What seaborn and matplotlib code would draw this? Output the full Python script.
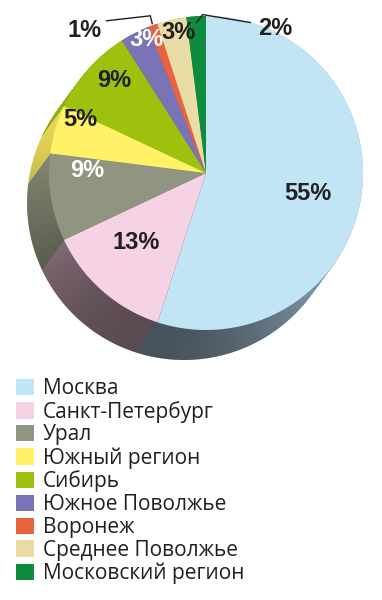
import numpy as np
import matplotlib
matplotlib.use('Agg')
import matplotlib.pyplot as plt
import seaborn as sns
from matplotlib.path import Path
from matplotlib.patches import PathPatch

# ---------------- data ----------------
regions = ['Москва', 'Санкт-Петербург', 'Урал', 'Южный регион', 'Сибирь',
           'Южное Поволжье', 'Воронеж', 'Среднее Поволжье', 'Московский регион']
shares = [55, 13, 9, 5, 9, 3, 1, 3, 2]

# ---------------- style ----------------
top_colors = ['#c2e5f6', '#f5d2e4', '#8f9580', '#fff266', '#9dc10d',
              '#7a73b6', '#ea633f', '#e9dca4', '#0f8b3d']
side_colors = ['#94adbf', '#bb9aa8', '#8a907a', '#e6d656', '#8fae10',
               '#6a64a0', '#c85434', '#cfc28b', '#0c7433']
label_colors = ['#231f20', '#231f20', 'white', '#231f20', '#231f20',
                'white', '#231f20', '#231f20', '#231f20']
label_shift = [-2.6, -3.6, -10, -6.8, -3.6, -3, 0, -1.6, 0]
label_rad = [0.66, 0.63, 0.76, 0.87, 0.83, 0.93, None, 0.91, None]
# callouts: (radius factor, leader offsets, text offset, ha)
callouts = {6: (1.01, [(-2, 8), (-46, 3)], (-51, -7), 'right'),
            8: (0.96, [(6, 8), (54, 0)], (62, -6), 'left')}

sns.set_theme(style='white')
plt.rcParams['font.family'] = ['Open Sans', 'DejaVu Sans']
dark = '#231f20'
bold_family = ['Liberation Sans', 'DejaVu Sans']

W, H = 382, 600
fig = plt.figure(figsize=(W / 100, H / 100), dpi=100, facecolor='white')
ax = fig.add_axes([0, 0, 1, 1])

cx, cy, R = 206, 427, 157
dx, dy = -22, -30

# extruded side (stack of offset pies)
n_layers = 36
for i in range(n_layers):
    t = 1 - i / (n_layers - 1)
    ax.pie(shares, colors=side_colors, startangle=90, counterclock=False,
           center=(cx + dx * t, cy + dy * t), radius=R,
           wedgeprops=dict(linewidth=0, zorder=1))

# shading of the side
phi = np.arctan2(-dy, -dx)
a1 = np.linspace(phi + np.pi / 2, phi + 1.5 * np.pi, 200)
a2 = np.linspace(phi + 1.5 * np.pi, phi + 2.5 * np.pi, 200)
xs = np.r_[cx + dx + R * np.cos(a1), cx + R * np.cos(a2)]
ys = np.r_[cy + dy + R * np.sin(a1), cy + R * np.sin(a2)]
verts = np.c_[np.r_[xs, xs[0]], np.r_[ys, ys[0]]]
clip = PathPatch(Path(verts, closed=True), transform=ax.transData,
                 facecolor='none', edgecolor='none')
ax.add_patch(clip)
yy, xx = np.mgrid[0:H, 0:W] + 0.5
theta = np.degrees(np.arctan2(yy - cy, xx - cx))
d = np.radians((theta - 250 + 180) % 360 - 180)
v = np.clip(np.cos(d), 0, 1)
rgba = np.zeros((H, W, 4))
rgba[..., 3] = v ** 1.5 * 0.52
im = ax.imshow(rgba, extent=(0, W, 0, H), origin='lower', zorder=2,
               interpolation='bilinear')
im.set_clip_path(clip)

# top face
wedges, _ = ax.pie(shares, colors=top_colors, startangle=90, counterclock=False,
                   center=(cx, cy), radius=R,
                   wedgeprops=dict(linewidth=0, zorder=3))

# percent labels
for k, (w, s, col, sh, rf) in enumerate(zip(wedges, shares, label_colors,
                                            label_shift, label_rad)):
    mid = np.radians((w.theta1 + w.theta2) / 2 + sh)
    if rf is not None:
        ax.text(cx + rf * R * np.cos(mid), cy + rf * R * np.sin(mid), f'{s}%',
                ha='center', va='center', fontsize=17, fontweight='bold',
                color=col, family=bold_family, zorder=5)
    elif k in callouts:
        r0, offs, toff, ha = callouts[k]
        x0 = cx + r0 * R * np.cos(mid)
        y0 = cy + r0 * R * np.sin(mid)
        lx = [x0] + [x0 + o[0] for o in offs]
        ly = [y0] + [y0 + o[1] for o in offs]
        ax.plot(lx, ly, color=dark, lw=1.0, zorder=6, solid_joinstyle='miter')
        ax.text(x0 + toff[0], y0 + toff[1], f'{s}%', ha=ha, va='center',
                fontsize=17, fontweight='bold', color=dark,
                family=bold_family, zorder=5)

# legend
leg = ax.legend(wedges, regions, loc='upper left', bbox_to_anchor=(16, 222),
                bbox_transform=ax.transData, frameon=False, fontsize=15,
                handlelength=0.87, handleheight=0.82, handletextpad=0.42,
                labelspacing=0.085, borderaxespad=0, borderpad=0)
for txt in leg.get_texts():
    txt.set_color(dark)

ax.set_xlim(0, W)
ax.set_ylim(0, H)
ax.set_aspect('auto')
ax.axis('off')

fig.savefig('out.png', dpi=100, facecolor='white')
